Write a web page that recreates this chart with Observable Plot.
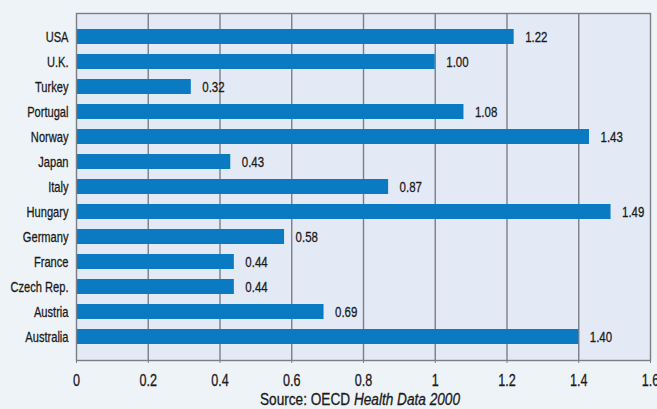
<!DOCTYPE html>
<html>
<head>
<meta charset="utf-8">
<script src="https://cdn.jsdelivr.net/npm/d3@7"></script>
<script src="https://cdn.jsdelivr.net/npm/@observablehq/plot@0.6"></script>
<style>
  html, body { margin: 0; padding: 0; background: #EEF3F8; }
  #chart svg { display: block; }
  #chart svg text { stroke: #1a1a1a; stroke-width: 0.3px; }
</style>
</head>
<body>
<div id="chart"></div>
<script>
const countries = ["USA", "U.K.", "Turkey", "Portugal", "Norway", "Japan", "Italy", "Hungary", "Germany", "France", "Czech Rep.", "Austria", "Australia"];
const values = [1.22, 1.00, 0.32, 1.08, 1.43, 0.43, 0.87, 1.49, 0.58, 0.44, 0.44, 0.69, 1.40];
const xTicks = [0, 0.2, 0.4, 0.6, 0.8, 1, 1.2, 1.4, 1.6];
const sourcePlain = "Source: OECD ";
const sourceItalic = "Health Data 2000";

const data = countries.map((c, i) => ({country: c, value: values[i]}));
const font = "'Liberation Sans', Arial, sans-serif";

const chart = Plot.plot({
  width: 657,
  height: 409,
  marginLeft: 76,
  marginRight: 7,
  marginTop: 13,
  marginBottom: 49,
  style: {fontFamily: font, fontSize: "15px", color: "#1a1a1a", background: "transparent", overflow: "visible"},
  x: {domain: [0, 1.6], ticks: xTicks, tickFormat: d => String(d), label: null},
  y: {domain: countries, padding: 0.42, label: null},
  marks: [
    Plot.frame({fill: "#E3EAF6", stroke: null}),
    Plot.ruleX(xTicks.slice(1, -1), {stroke: "#7c7e86", strokeWidth: 1.4}),
    Plot.barX(data, {x: "value", y: "country", fill: "#0A7BC2"}),
    Plot.text(data, {x: "value", y: "country", text: d => d.value.toFixed(2), dx: 11, textAnchor: "start", fill: "#1a1a1a", fontSize: 15.5}),
    Plot.frame({stroke: "#7c7e86", strokeWidth: 1.4}),
    Plot.axisX({ticks: xTicks, tickFormat: d => String(d), tickSize: 3, tickPadding: 10, stroke: "#7c7e86", fontSize: 17, label: null}),
    Plot.axisY({tickSize: 0, tickPadding: 8, fontSize: 15, label: null})
  ]
});

document.getElementById("chart").appendChild(chart);

const svg = d3.select(chart);

// condense all text horizontally to imitate the condensed face of the original
svg.selectAll("text").each(function() {
  const len = this.getComputedTextLength();
  if (len > 0) {
    this.setAttribute("textLength", (len * 0.74).toFixed(2));
    this.setAttribute("lengthAdjust", "spacingAndGlyphs");
  }
});

const t = svg.append("text")
  .attr("class", "source")
  .attr("x", 360)
  .attr("y", 405)
  .attr("text-anchor", "middle")
  .attr("font-family", font)
  .attr("font-size", 16)
  .attr("fill", "#1a1a1a")
  .attr("textLength", 200)
  .attr("lengthAdjust", "spacingAndGlyphs");
t.append("tspan").text(sourcePlain);
t.append("tspan").attr("font-style", "italic").text(sourceItalic);
</script>
</body>
</html>
